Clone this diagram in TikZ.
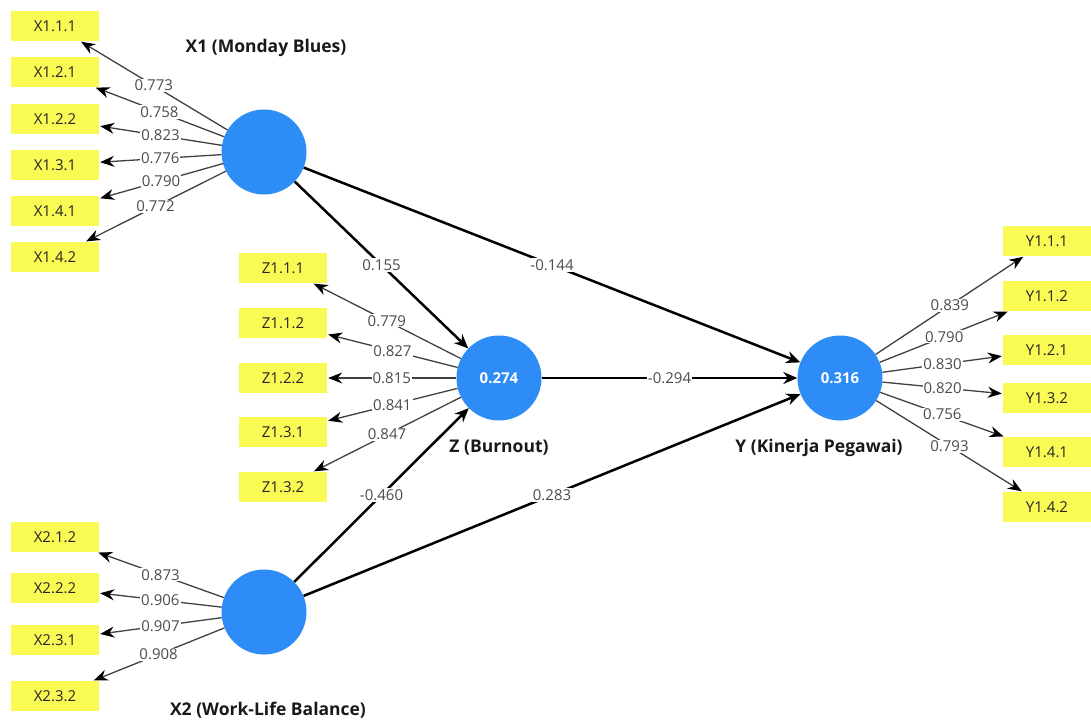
\documentclass[tikz,border=0pt]{standalone}
\usepackage{fontspec}
\setmainfont{Open Sans}
\usetikzlibrary{arrows.meta}
\definecolor{lvblue}{RGB}{45,140,245}
\definecolor{mvyellow}{RGB}{250,250,85}
\tikzset{
  lv/.style={circle, fill=lvblue, minimum size=85pt, inner sep=0pt, text=white, font=\bfseries\fontsize{15}{17}\selectfont},
  mv/.style={fill=mvyellow, minimum width=88pt, minimum height=30pt, inner sep=0pt, text=black!85, font=\fontsize{15}{17}\selectfont},
  lvname/.style={font=\bfseries\fontsize{17.5}{20}\selectfont, text=black!90},
  loading/.style={-{Stealth[length=14pt,width=11pt,color=black]}, draw=black!75, line width=1.3pt, shorten >=1pt},
  coef/.style={-{Stealth[length=14pt,width=12pt]}, line width=2.5pt},
  val/.style={midway, fill=white, inner sep=1pt, text=black!70, font=\fontsize{15}{17}\selectfont}
}
\begin{document}
\begin{tikzpicture}[x=1pt, y=-1pt]
    \useasboundingbox (0,0) rectangle (1091,723);

    % latent variables
    \node [lv] (x1) at (264,152) {};
    \node [lv] (z) at (499,378) {0.274};
    \node [lv] (y) at (840,378) {0.316};
    \node [lv] (x2) at (264,612) {};

    \node [lvname] (x1name) at (266,48) {X1 (Monday Blues)};
    \node [lvname] (zname) at (499,448) {Z (Burnout)};
    \node [lvname] (yname) at (819,448) {Y (Kinerja Pegawai)};
    \node [lvname] (x2name) at (268,710) {X2 (Work-Life Balance)};

    % indicators
    \node [mv] (x111) at (55,26) {X1.1.1};
    \node [mv] (x121) at (55,72) {X1.2.1};
    \node [mv] (x122) at (55,119) {X1.2.2};
    \node [mv] (x131) at (55,165) {X1.3.1};
    \node [mv] (x141) at (55,211) {X1.4.1};
    \node [mv] (x142) at (55,257) {X1.4.2};

    \node [mv] (z111) at (283,268) {Z1.1.1};
    \node [mv] (z112) at (283,323) {Z1.1.2};
    \node [mv] (z122) at (283,378) {Z1.2.2};
    \node [mv] (z131) at (283,432) {Z1.3.1};
    \node [mv] (z132) at (283,487) {Z1.3.2};

    \node [mv] (x212) at (55,537) {X2.1.2};
    \node [mv] (x222) at (55,588) {X2.2.2};
    \node [mv] (x231) at (55,640) {X2.3.1};
    \node [mv] (x232) at (55,696) {X2.3.2};

    \node [mv] (y111) at (1047,241) {Y1.1.1};
    \node [mv] (y112) at (1047,296) {Y1.1.2};
    \node [mv] (y121) at (1047,350) {Y1.2.1};
    \node [mv] (y132) at (1047,398) {Y1.3.2};
    \node [mv] (y141) at (1047,452) {Y1.4.1};
    \node [mv] (y142) at (1047,507) {Y1.4.2};

    % outer loadings
    \draw [loading] (x1) -- (x111) node [val] {0.773};
    \draw [loading] (x1) -- (x121) node [val] {0.758};
    \draw [loading] (x1) -- (x122) node [val] {0.823};
    \draw [loading] (x1) -- (x131) node [val] {0.776};
    \draw [loading] (x1) -- (x141) node [val] {0.790};
    \draw [loading] (x1) -- (x142) node [val] {0.772};

    \draw [loading] (z) -- (z111) node [val] {0.779};
    \draw [loading] (z) -- (z112) node [val] {0.827};
    \draw [loading] (z) -- (z122) node [val] {0.815};
    \draw [loading] (z) -- (z131) node [val] {0.841};
    \draw [loading] (z) -- (z132) node [val] {0.847};

    \draw [loading] (x2) -- (x212) node [val] {0.873};
    \draw [loading] (x2) -- (x222) node [val] {0.906};
    \draw [loading] (x2) -- (x231) node [val] {0.907};
    \draw [loading] (x2) -- (x232) node [val] {0.908};

    \draw [loading] (y) -- (y111) node [val] {0.839};
    \draw [loading] (y) -- (y112) node [val] {0.790};
    \draw [loading] (y) -- (y121) node [val] {0.830};
    \draw [loading] (y) -- (y132) node [val] {0.820};
    \draw [loading] (y) -- (y141) node [val] {0.756};
    \draw [loading] (y) -- (y142) node [val] {0.793};

    % path coefficients
    \draw [coef] (x1) -- (z) node [val] {0.155};
    \draw [coef] (x1) -- (y) node [val] {-0.144};
    \draw [coef] (z) -- (y) node [val] {-0.294};
    \draw [coef] (x2) -- (z) node [val] {-0.460};
    \draw [coef] (x2) -- (y) node [val] {0.283};
\end{tikzpicture}
\end{document}
